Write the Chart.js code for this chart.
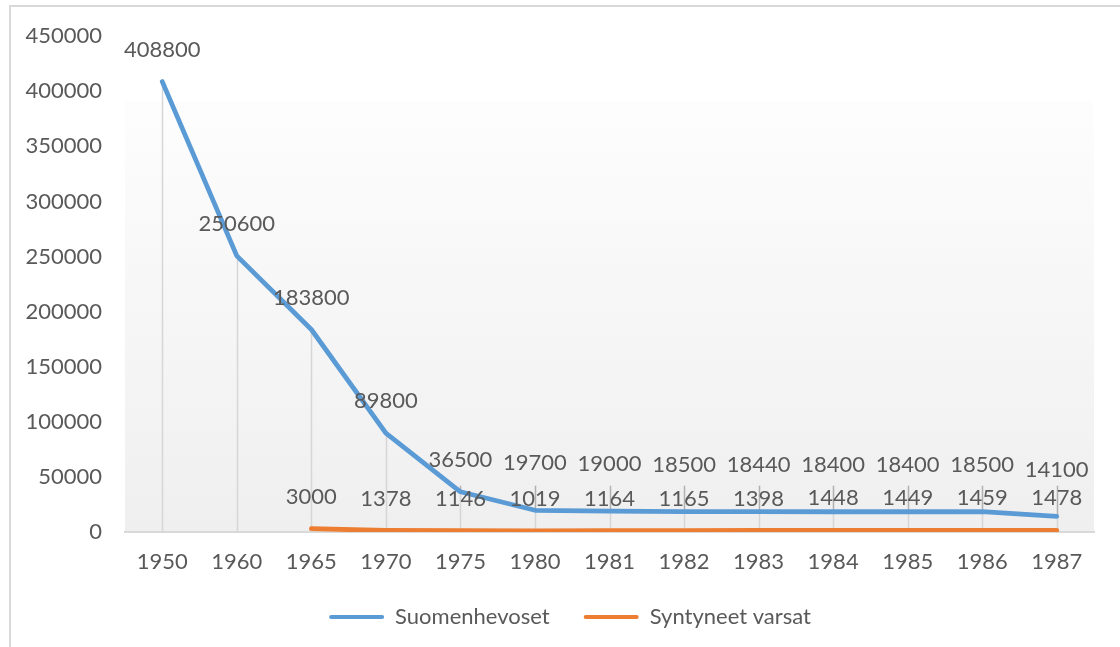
<!DOCTYPE html>
<html><head><meta charset="utf-8">
<script src="https://cdn.jsdelivr.net/npm/chart.js@4/dist/chart.umd.min.js"></script>
<style>html,body{margin:0;padding:0;background:#fff;} #wrap{width:1120px;height:647px;position:relative;}</style>
</head><body><div id="wrap"><canvas id="c" width="1120" height="647"></canvas></div>
<script>
const years = ['1950','1960','1965','1970','1975','1980','1981','1982','1983','1984','1985','1986','1987'];
const suomenhevoset = [408800,250600,183800,89800,36500,19700,19000,18500,18440,18400,18400,18500,14100];
const syntyneetVarsat = [null,null,3000,1378,1146,1019,1164,1165,1398,1448,1449,1459,1478];
const seriesNames = ['Suomenhevoset','Syntyneet varsat'];
const yMin = 0, yMax = 450000, yStep = 50000;

const FONT = 'Lato, "Open Sans", sans-serif';
const FSIZE = 22;
const TEXT = '#595959';
const dropLineMinValue = 42000;

const framePlugin = {
  id: 'frame',
  afterLayout(chart) {
    if (chart.legend) { chart.legend.left += 13; chart.legend.right += 13; }
  },
  beforeDraw(chart) {
    const ctx = chart.ctx, a = chart.chartArea;
    ctx.save();
    ctx.fillStyle = '#fff';
    ctx.fillRect(0, 0, chart.width, chart.height);
    ctx.strokeStyle = '#d9d9d9';
    ctx.lineWidth = 2;
    ctx.strokeRect(10, 6, chart.width + 20, chart.height + 20);
    const top = a.top + (a.bottom - a.top) * 0.131;
    const g = ctx.createLinearGradient(0, top, 0, a.bottom);
    g.addColorStop(0, '#fdfdfd');
    g.addColorStop(1, '#efefef');
    ctx.fillStyle = g;
    ctx.fillRect(a.left, top, a.right - a.left, a.bottom - top);
    ctx.restore();
  }
};

const dropPlugin = {
  id: 'drop',
  beforeDatasetsDraw(chart) {
    const ctx = chart.ctx, x = chart.scales.x, y = chart.scales.y;
    const base = y.getPixelForValue(0);
    ctx.save();
    years.forEach((_, i) => {
      const vals = [suomenhevoset[i], syntyneetVarsat[i]].filter(v => v != null);
      const px = Math.round(x.getPixelForValue(i)) + 0.5;
      const py = y.getPixelForValue(Math.max(...vals));
      const ext = Math.min(py, y.getPixelForValue(dropLineMinValue));
      ctx.lineWidth = 1.5;
      ctx.strokeStyle = '#d6d6d6';
      ctx.beginPath(); ctx.moveTo(px, base); ctx.lineTo(px, py); ctx.stroke();
      if (ext < py) {
        ctx.strokeStyle = '#b0b0b0';
        ctx.beginPath(); ctx.moveTo(px, py); ctx.lineTo(px, ext); ctx.stroke();
      }
    });
    ctx.restore();
  }
};

const labelPlugin = {
  id: 'vlabels',
  afterDatasetsDraw(chart) {
    const ctx = chart.ctx, x = chart.scales.x, y = chart.scales.y;
    ctx.save();
    ctx.font = FSIZE + 'px ' + FONT;
    ctx.fillStyle = TEXT;
    ctx.textAlign = 'center';
    ctx.textBaseline = 'middle';
    years.forEach((_, i) => {
      const px = x.getPixelForValue(i);
      let oy = null;
      if (syntyneetVarsat[i] != null) {
        oy = y.getPixelForValue(syntyneetVarsat[i]) - 32;
        ctx.fillText(String(syntyneetVarsat[i]), px, oy);
      }
      const by = y.getPixelForValue(suomenhevoset[i]);
      let ly = by - 32;
      if (oy != null && ly > oy - 34) ly = by - 47;
      ctx.fillText(String(suomenhevoset[i]), px, ly);
    });
    ctx.restore();
  }
};

const font = { family: FONT, size: FSIZE };

new Chart(document.getElementById('c'), {
  type: 'line',
  data: {
    labels: years,
    datasets: [
      { label: seriesNames[0], data: suomenhevoset, borderColor: '#5b9bd5', backgroundColor: '#5b9bd5',
        borderWidth: 4.8, pointRadius: 0, tension: 0, borderCapStyle: 'round', borderJoinStyle: 'round' },
      { label: seriesNames[1], data: syntyneetVarsat, borderColor: '#ed7d31', backgroundColor: '#ed7d31',
        borderWidth: 4.8, pointRadius: 0, tension: 0, borderCapStyle: 'round', borderJoinStyle: 'round' }
    ]
  },
  options: {
    responsive: false,
    animation: false,
    devicePixelRatio: 1,
    layout: { padding: { left: 20, right: 26, top: 35, bottom: 9 } },
    plugins: {
      tooltip: { enabled: false },
      legend: {
        position: 'bottom',
        labels: {
          boxWidth: 55, boxHeight: 4, padding: 34, color: TEXT, font: font,
          generateLabels(chart) {
            return Chart.defaults.plugins.legend.labels.generateLabels(chart).map(l => ({ ...l, lineWidth: 0, borderRadius: 2 }));
          }
        }
      }
    },
    scales: {
      x: {
        offset: true,
        grid: { display: false, drawTicks: false },
        border: { display: true, color: '#d9d9d9', width: 2 },
        ticks: { color: TEXT, font: font, padding: 17, maxRotation: 0, autoSkip: false },
        afterFit(s) { s.height = 40; }
      },
      y: {
        min: yMin, max: yMax,
        grid: { display: false, drawTicks: false },
        border: { display: false },
        ticks: { stepSize: yStep, color: TEXT, font: font, padding: 23, callback: v => String(v) },
        afterFit(s) { s.width = 105; }
      }
    }
  },
  plugins: [framePlugin, dropPlugin, labelPlugin]
});
</script>
</body></html>
